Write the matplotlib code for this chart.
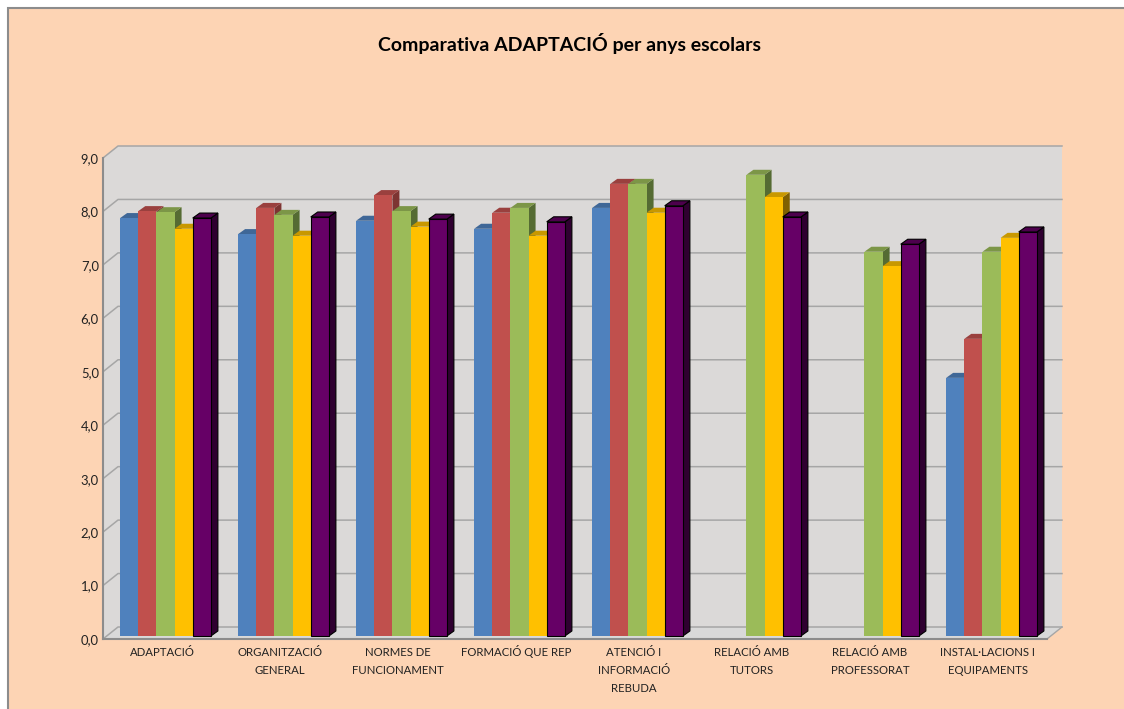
import numpy as np
import matplotlib
matplotlib.use("Agg")
import matplotlib.pyplot as plt
from matplotlib.patches import Rectangle

plt.rcParams['font.family'] = ['Lato', 'DejaVu Sans']

categorias = ["ADAPTACIÓ", "ORGANITZACIÓ\nGENERAL", "NORMES DE\nFUNCIONAMENT",
              "FORMACIÓ QUE REP", "ATENCIÓ I\nINFORMACIÓ\nREBUDA", "RELACIÓ AMB\nTUTORS",
              "RELACIÓ AMB\nPROFESSORAT", "INSTAL·LACIONS I\nEQUIPAMENTS"]
serie1 = [7.82, 7.52, 7.77, 7.62, 8.01, np.nan, np.nan, 4.83]
serie2 = [7.95, 8.01, 8.25, 7.92, 8.46, np.nan, np.nan, 5.56]
serie3 = [7.93, 7.88, 7.95, 8.01, 8.46, 8.63, 7.19, 7.19]
serie4 = [7.62, 7.49, 7.66, 7.49, 7.92, 8.21, 6.92, 7.45]
serie5 = [7.82, 7.84, 7.80, 7.75, 8.05, 7.84, 7.33, 7.56]
series = [serie1, serie2, serie3, serie4, serie5]
ticks_y = [0, 1, 2, 3, 4, 5, 6, 7, 8, 9]

# frontal, tapa, lateral
colores = [("#4F81BD", "#3F6797", "#2F4D71"),
           ("#C0504D", "#9A403E", "#7D3432"),
           ("#9BBB59", "#7C9647", "#556B33"),
           ("#FFC000", "#C89800", "#806000"),
           ("#660066", "#4D004D", "#2F0030")]
W, H = 1124, 709
PARED = "#DBD9D8"
SUELO = "#D9D9D9"
GRIS = "#A6A6A6"

fig = plt.figure(figsize=(W / 100, H / 100), dpi=100, facecolor="white")
# el fondo sale del lienzo por la derecha y por abajo
fig.add_artist(Rectangle((8 / W, -0.02), 1.02, 1.02 - 8 / H, transform=fig.transFigure,
                         facecolor="#FDD4B4", edgecolor="#8C8C8C", linewidth=1.5, zorder=-1))

ax = fig.add_axes([103 / W, 1 - 639 / H, 944 / W, 481 / H])
ax.set_xlim(0, 8)
ax.set_ylim(0, 9)
ax.patch.set_visible(False)

# profundidad en unidades de datos
px_x = 8 / 944
px_y = 9 / 481
fx, fy = 15 * px_x, 12 * px_y


def cara(xs, ys, color, z=1, ec="none", lw=0):
    ax.fill(xs, ys, facecolor=color, edgecolor=ec, linewidth=lw, clip_on=False, zorder=z)


# paredes y suelo
cara([fx, 8 + fx, 8 + fx, fx], [fy, fy, 9 + fy, 9 + fy], PARED)
cara([0, fx, fx, 0], [0, fy, 9 + fy, 9], PARED)
cara([0, 8, 8 + fx, fx], [0, 0, fy, fy], SUELO)
ax.plot([8, 8 + fx], [0, fy], color=GRIS, lw=1, clip_on=False, zorder=2)

for t in ticks_y:
    ax.plot([0, fx, 8 + fx], [t, t + fy, t + fy], color=GRIS, lw=1.1, clip_on=False, zorder=2)

# barras
ancho = 1 / 6.5
d1x, d1y = 3.5 * px_x, 3 * px_y
d2x, d2y = 10.5 * px_x, 8 * px_y
for i in range(len(categorias)):
    for j, serie in enumerate(series):
        v = serie[i]
        if np.isnan(v):
            continue
        x0 = i + d1x + 0.75 * ancho + j * ancho
        x1 = x0 + ancho
        cf, ct, cl = colores[j]
        y1 = v + d1y
        z = 3 + i + j * 0.1
        ec = "black" if j == 4 else "none"
        lw = 0.8 if j == 4 else 0
        cara([x1, x1 + d2x - d1x, x1 + d2x - d1x, x1],
             [d1y, d2y, v + d2y, y1], cl, z, ec, lw)
        cara([x0, x1, x1 + d2x - d1x, x0 + d2x - d1x],
             [y1, y1, v + d2y, v + d2y], ct, z, ec, lw)
        ax.bar(x0, v, width=ancho, bottom=d1y, align="edge", color=cf, edgecolor=ec,
               linewidth=lw, clip_on=False, zorder=z + 0.01)

# etiquetas linea a linea, con la linea base fija
ax.set_xticks(np.arange(len(categorias)) + 0.5)
ax.set_xticklabels([])
for i, cat in enumerate(categorias):
    for k, linea in enumerate(cat.split("\n")):
        ax.annotate(linea, xy=(i + 0.5, 0), xytext=(0, -(17 + 18 * k) * 0.72),
                    textcoords="offset points", ha="center", va="baseline",
                    fontsize=8.2, color="#222222")

ax.set_yticks(ticks_y)
ax.set_yticklabels([f"{t:.1f}".replace(".", ",") for t in ticks_y], fontsize=9.4, color="#222222")
ax.tick_params(axis="both", length=0)
ax.tick_params(axis="y", pad=3)
for s in ["top", "right"]:
    ax.spines[s].set_visible(False)
for s in ["left", "bottom"]:
    ax.spines[s].set_color("#8C8C8C")
    ax.spines[s].set_linewidth(1.5)
    ax.spines[s].set_zorder(2.5)

fig.text(570 / W, 1 - 44 / H, "Comparativa ADAPTACIÓ per anys escolars", ha="center", va="center",
         fontsize=14, fontweight="bold", color="black")

fig.savefig("out.png", dpi=100)
